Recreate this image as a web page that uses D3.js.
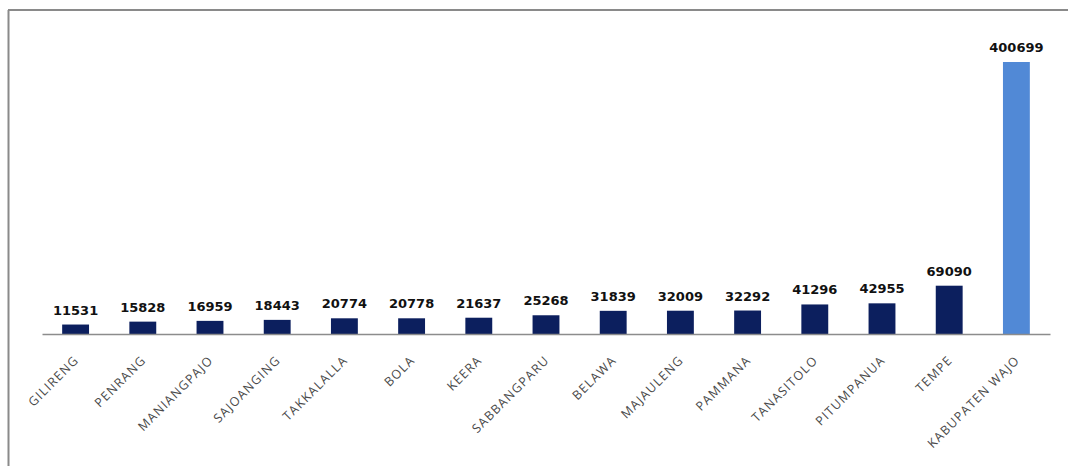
<!DOCTYPE html>
<html>
<head>
<meta charset="utf-8">
<script src="https://cdn.jsdelivr.net/npm/d3@7"></script>
<style>
  html, body { margin: 0; padding: 0; background: #fff; }
  svg { display: block; }
</style>
</head>
<body>
<svg id="chart" width="1068" height="466"></svg>
<script>
const categories = ["GILIRENG", "PENRANG", "MANIANGPAJO", "SAJOANGING", "TAKKALALLA", "BOLA", "KEERA", "SABBANGPARU", "BELAWA", "MAJAULENG", "PAMMANA", "TANASITOLO", "PITUMPANUA", "TEMPE", "KABUPATEN WAJO"];
const values = [11531, 15828, 16959, 18443, 20774, 20778, 21637, 25268, 31839, 32009, 32292, 41296, 42955, 69090, 400699];
const highlight = ["KABUPATEN WAJO"];

const svg = d3.select("#chart");
const W = 1068, H = 466;

// frame
svg.append("line").attr("x1", 8).attr("x2", W).attr("y1", 10).attr("y2", 10)
  .attr("stroke", "#8a8a8a").attr("stroke-width", 2);
svg.append("line").attr("x1", 8.5).attr("x2", 8.5).attr("y1", 10).attr("y2", H)
  .attr("stroke", "#8a8a8a").attr("stroke-width", 2);

const x = d3.scaleBand().domain(categories).range([42, 1050]).paddingInner(0.6).paddingOuter(0.3);
const y = d3.scaleLinear().domain([-2500, d3.max(values)]).range([334, 62]);
const base = y(-2500);

const data = categories.map((c, i) => ({ c, v: values[i] }));

const g = svg.append("g");
g.selectAll("rect.bar").data(data).enter().append("rect")
  .attr("class", "bar")
  .attr("x", d => x(d.c))
  .attr("width", x.bandwidth())
  .attr("y", d => y(d.v))
  .attr("height", d => base - y(d.v))
  .attr("fill", d => highlight.includes(d.c) ? "#5189d6" : "#0c1f5e");

// baseline axis
const axis = d3.axisBottom(x).tickSize(0).tickFormat("");
const ax = svg.append("g").attr("transform", `translate(0,${base})`).call(axis);
ax.select(".domain").attr("stroke", "#8c8c8c").attr("stroke-width", 1.5);

// value labels
g.selectAll("text.val").data(data).enter().append("text")
  .attr("class", "val")
  .attr("x", d => x(d.c) + x.bandwidth() / 2)
  .attr("y", d => y(d.v) - 10)
  .attr("text-anchor", "middle")
  .attr("font-family", "DejaVu Sans, sans-serif")
  .attr("font-weight", "bold")
  .attr("font-size", 13)
  .attr("fill", "#111")
  .text(d => d.v);

// category labels
g.selectAll("text.cat").data(data).enter().append("text")
  .attr("class", "cat")
  .attr("transform", d => `translate(${x(d.c) + x.bandwidth() / 2 + 4},${base + 27}) rotate(-45)`)
  .attr("text-anchor", "end")
  .attr("font-family", "Open Sans, sans-serif")
  .attr("font-size", 12.5)
  .attr("letter-spacing", 1.2)
  .attr("fill", "#4a4a4a")
  .text(d => d.c);
</script>
</body>
</html>
